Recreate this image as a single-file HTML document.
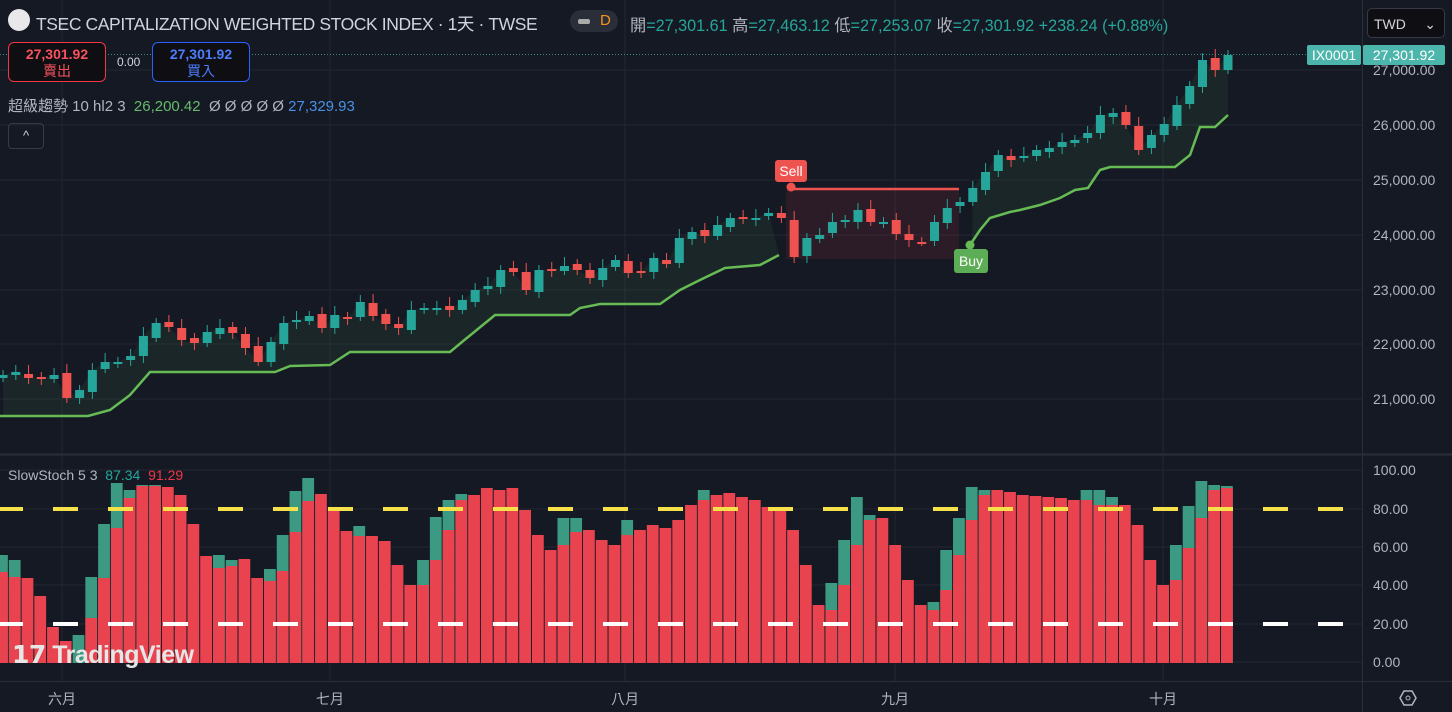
<!DOCTYPE html>
<html><head><meta charset="utf-8">
<style>
body{margin:0;background:#151924;width:1452px;height:712px;overflow:hidden;font-family:"Liberation Sans","Noto Sans CJK TC",sans-serif;}
svg{position:absolute;left:0;top:0}
.t{position:absolute;white-space:nowrap}
</style></head><body>
<svg id="s" width="1452" height="712" xmlns="http://www.w3.org/2000/svg"></svg>
<div class="t" style="left:8px;top:9px;width:22px;height:22px;border-radius:50%;background:#e8e8ea"></div>
<div class="t" style="left:36px;top:11px;font-size:17.5px;color:#d1d4dc;letter-spacing:-0.4px">TSEC CAPITALIZATION WEIGHTED STOCK INDEX · 1天 · TWSE</div>
<div class="t" style="left:570px;top:10px;width:48px;height:22px;border-radius:11px;background:#2a2e39"></div>
<div class="t" style="left:578px;top:19px;width:12px;height:5px;border-radius:2px;background:#aaa"></div>
<div class="t" style="left:600px;top:12px;font-size:15px;color:#f7931a">D</div>
<div class="t" style="left:630px;top:12px;font-size:16.2px;color:#26a69a"><span style="color:#b2b5be">開</span>=27,301.61 <span style="color:#b2b5be">高</span>=27,463.12 <span style="color:#b2b5be">低</span>=27,253.07 <span style="color:#b2b5be">收</span>=27,301.92 +238.24 (+0.88%)</div>
<div class="t" style="left:8px;top:42px;width:98px;height:40px;border:1px solid #f23645;border-radius:6px;background:#0f0f13;text-align:center;color:#f7525f;font-size:14px;line-height:17px;padding-top:3px;box-sizing:border-box;font-weight:bold">27,301.92<br><span style="font-weight:normal">賣出</span></div>
<div class="t" style="left:117px;top:55px;font-size:12px;color:#d1d4dc">0.00</div>
<div class="t" style="left:152px;top:42px;width:98px;height:40px;border:1px solid #2962ff;border-radius:6px;background:#0f0f13;text-align:center;color:#4c7dff;font-size:14px;line-height:17px;padding-top:3px;box-sizing:border-box;font-weight:bold">27,301.92<br><span style="font-weight:normal">買入</span></div>
<div class="t" style="left:8px;top:95px;font-size:15px;color:#b2b5be">超級趨勢 10 hl2 3 &nbsp;<span style="color:#66bb6a">26,200.42</span> &nbsp;Ø Ø Ø Ø Ø <span style="color:#4a90e2">27,329.93</span></div>
<div class="t" style="left:8px;top:123px;width:34px;height:24px;border:1px solid #363a45;border-radius:4px;color:#d1d4dc;font-size:13px;text-align:center;line-height:24px">^</div>
<div class="t" style="left:8px;top:467px;font-size:14px;color:#b2b5be">SlowStoch 5 3 &nbsp;<span style="color:#26a69a">87.34</span> &nbsp;<span style="color:#f23645">91.29</span></div>
<div class="t" style="left:12px;top:640px;font-size:25px;color:#e6e6e6;font-weight:bold;letter-spacing:-0.5px">𝟭𝟳 TradingView</div>
<div class="t" style="left:1367px;top:8px;width:78px;height:30px;border:1px solid #363a45;border-radius:5px;background:#0f0f13;color:#d1d4dc;font-size:14px;line-height:30px;padding-left:6px;box-sizing:border-box">TWD <span style="float:right;margin-right:8px">⌄</span></div>
<script>
const S=document.getElementById('s');let h='';
const P=12.76;
[70,125,180,235,290,344,399].forEach(y=>h+=`<line x1="0" x2="1362" y1="${y}" y2="${y}" stroke="#222631"/>`);
[470,509,547,585,624,662].forEach(y=>h+=`<line x1="0" x2="1362" y1="${y}" y2="${y}" stroke="#222631"/>`);
[62,330,625,895,1163].forEach(x=>h+=`<line x1="${x}" x2="${x}" y1="0" y2="681" stroke="#222631"/>`);
h+=`<line x1="0" x2="1452" y1="454.5" y2="454.5" stroke="#2a2e39" stroke-width="2"/>`;
h+=`<line x1="0" x2="1452" y1="681.5" y2="681.5" stroke="#2a2e39"/>`;
h+=`<line x1="1362.5" x2="1362.5" y1="0" y2="712" stroke="#2a2e39"/>`;
const cp=[[0,375],[13,372],[26,378],[39,378],[50,375],[60,398],[72,390],[85,370],[98,362],[110,362],[125,356],[138,336],[150,323],[163,327],[176,340],[189,343],[200,332],[215,328],[228,333],[240,348],[253,362],[265,342],[280,323],[293,320],[305,316],[318,328],[330,315],[343,318],[356,302],[369,316],[382,324],[395,328],[408,310],[420,308],[433,308],[446,310],[458,300],[472,290],[485,286],[497,270],[510,272],[522,290],[535,270],[548,270],[560,266],[573,270],[586,278],[598,268],[612,260],[625,273],[638,272],[650,258],[663,264],[676,238],[689,232],[701,236],[715,225],[728,218],[741,218],[754,218],[766,213],[779,218],[791,257],[804,238],[817,235],[830,222],[843,220],[856,210],[868,222],[881,222],[894,234],[907,240],[920,242],[933,222],[946,208],[958,202],[971,188],[984,172],[997,155],[1010,160],[1023,156],[1036,150],[1049,148],[1062,142],[1075,140],[1088,133],[1100,115],[1112,113],[1125,125],[1138,150],[1150,135],[1163,124],[1176,105],[1189,86],[1202,60],[1215,70],[1228,55]];
const xs=cp.map((p,i)=>1228-(cp.length-1-i)*P);
const stUp=[[0,416],[88,416],[110,410],[130,395],[150,372],[275,372],[290,366],[330,365],[350,352],[450,352],[462,342],[495,315],[570,315],[580,308],[600,304],[660,304],[680,290],[700,280],[725,268],[760,265],[779,255]];
const stUp2=[[970,245],[980,230],[990,218],[1010,212],[1020,210],[1040,205],[1060,198],[1075,190],[1088,188],[1100,170],[1110,167],[1175,167],[1190,155],[1200,127],[1215,127],[1228,115]];
function fillPoly(line,x0,x1,col){let top=[];xs.forEach((x,i)=>{if(x>=x0-1&&x<=x1+1)top.push([x,Math.min(cp[i][1],line(x))]);});
 let pts=top.map(p=>p.join(',')).join(' ');let low=[];for(let x=x1;x>=x0;x-=4)low.push([x,line(x)]);pts+=' '+low.map(p=>p.join(',')).join(' ');h+=`<polygon points="${pts}" fill="${col}"/>`;}
function interp(arr){return x=>{for(let i=0;i<arr.length-1;i++){if(x<=arr[i+1][0]){const t=(x-arr[i][0])/(arr[i+1][0]-arr[i][0]);return arr[i][1]+t*(arr[i+1][1]-arr[i][1]);}}return arr[arr.length-1][1];}}
fillPoly(interp(stUp),0,779,'rgba(76,175,80,0.09)');
fillPoly(interp(stUp2),970,1228,'rgba(76,175,80,0.09)');
h+=`<rect x="786" y="189" width="173" height="70" fill="rgba(242,54,69,0.1)"/>`;
h+=`<polyline points="${stUp.map(p=>p.join(',')).join(' ')}" fill="none" stroke="#66bb55" stroke-width="2.5"/>`;
h+=`<polyline points="${stUp2.map(p=>p.join(',')).join(' ')}" fill="none" stroke="#66bb55" stroke-width="2.5"/>`;
h+=`<line x1="791" x2="959" y1="189" y2="189" stroke="#ef5350" stroke-width="2.5"/>`;
cp.forEach((p,i)=>{const x=xs[i];const c=p[1];const o=i?cp[i-1][1]+((i*7)%5-2):c+3;const up=c<o;const col=up?'#26a69a':'#ef5350';
 const t=Math.min(o,c),b=Math.max(o,c);const hh=Math.max(b-t,2);
 h+=`<line x1="${x}" x2="${x}" y1="${t-5-(i%3)*2}" y2="${b+4+(i%4)}" stroke="${col}" stroke-width="1"/>`;
 h+=`<rect x="${x-4.5}" y="${t}" width="9" height="${hh}" fill="${col}"/>`;});
h+=`<circle cx="791" cy="187" r="4.5" fill="#ef5350"/><rect x="775" y="160" width="32" height="22" rx="3" fill="#ef5350"/><text x="791" y="176" fill="#fff" font-size="14" text-anchor="middle" font-family="Liberation Sans">Sell</text>`;
h+=`<circle cx="970" cy="245" r="4.5" fill="#66bb55"/><rect x="954" y="249" width="34" height="24" rx="3" fill="#5cad55"/><text x="971" y="266" fill="#fff" font-size="14" text-anchor="middle" font-family="Liberation Sans">Buy</text>`;
h+=`<line x1="0" x2="1362" y1="54.5" y2="54.5" stroke="#4db6ac" stroke-dasharray="1 2" opacity="0.7"/>`;
const st=[[572,555],[577,560],[578],[596],[627],[641],[663,635],[618,577],[578,524],[528,483],[498,490],[486,485],[486,485],[487],[495],[524],[556],[568,555],[566,560],[559],[578],[581,569],[571,535],[532,491],[501,478],[494],[507],[531],[536,526],[536],[541],[565],[585],[585,560],[560,517],[530,500],[500,494],[495],[488],[490],[488],[510],[535],[550],[545,518],[532,518],[530],[540],[545],[535,520],[530],[525],[528],[520],[505],[500,490],[495],[493],[497],[500],[507],[510],[530],[565],[605],[610,583],[585,540],[545,497],[520,515],[518],[545],[580],[605],[610,602],[590,550],[555,518],[520,487],[495,490],[490],[492],[495],[496],[497],[498],[500],[500,490],[505,490],[505,497],[505],[525],[560],[585],[580,545],[548,506],[518,481],[490,485],[488,486]];
st.forEach((v,i)=>{const x=1227-(st.length-1-i)*P-6;const d=v[0],k=v.length>1?v[1]:d;
 if(k<d)h+=`<rect x="${x}" y="${k}" width="11.8" height="${663-k}" fill="#3c9a82"/>`;
 h+=`<rect x="${x}" y="${d}" width="11.8" height="${663-d}" fill="#e8434f"/>`;});
h+=`<line x1="-2" x2="1343" y1="509" y2="509" stroke="#f7e14a" stroke-width="4" stroke-dasharray="25 30"/>`;
h+=`<line x1="-2" x2="1343" y1="624" y2="624" stroke="#ffffff" stroke-width="4" stroke-dasharray="25 30"/>`;
const pl=[[70,'27,000.00'],[125,'26,000.00'],[180,'25,000.00'],[235,'24,000.00'],[290,'23,000.00'],[344,'22,000.00'],[399,'21,000.00'],[470,'100.00'],[509,'80.00'],[547,'60.00'],[585,'40.00'],[624,'20.00'],[662,'0.00']];
pl.forEach(p=>h+=`<text x="1373" y="${p[0]+5}" fill="#b2b5be" font-size="14" font-family="Liberation Sans">${p[1]}</text>`);
h+=`<rect x="1307" y="45" width="54" height="20" rx="2" fill="#4db6ac"/><text x="1334" y="60" fill="#fff" font-size="14" text-anchor="middle" font-family="Liberation Sans">IX0001</text>`;
h+=`<rect x="1363" y="45" width="82" height="20" rx="2" fill="#4db6ac"/><text x="1404" y="60" fill="#fff" font-size="14" text-anchor="middle" font-family="Liberation Sans">27,301.92</text>`;
[[62,'六月'],[330,'七月'],[625,'八月'],[895,'九月'],[1163,'十月']].forEach(p=>h+=`<text x="${p[0]}" y="704" fill="#b2b5be" font-size="14" text-anchor="middle" font-family="Liberation Sans,Noto Sans CJK TC,sans-serif">${p[1]}</text>`);
h+=`<polygon points="1400,698 1404,691 1412,691 1416,698 1412,705 1404,705" fill="none" stroke="#b2b5be" stroke-width="1.5"/><circle cx="1408" cy="698" r="2" fill="none" stroke="#b2b5be"/>`;
S.innerHTML=h;
</script>
</body></html>
